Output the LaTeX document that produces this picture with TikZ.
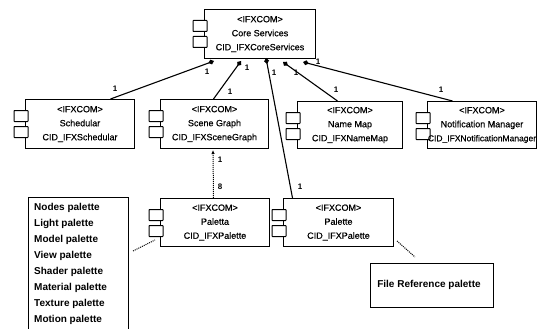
\documentclass[tikz,border=0pt]{standalone}
\usepackage{fontspec}
\setmainfont{Liberation Sans}
\newfontfamily\heavyfont[FakeBold=0.35]{Liberation Sans}
\usetikzlibrary{arrows.meta}
\tikzset{
  compbox/.style={draw,line width=1pt,fill=white,inner sep=0pt,anchor=north west},
  portbox/.style={draw,line width=1pt,fill=white,inner sep=0pt,minimum width=14pt,minimum height=11pt,rounded corners=0.5pt},
  complabel/.style={font=\heavyfont\fontsize{9}{14}\selectfont,align=center,inner sep=0pt},
  notebox/.style={draw,line width=1pt,fill=white,inner sep=0pt,anchor=north west},
  notetext/.style={font=\fontsize{10}{16}\selectfont\bfseries,align=left,inner sep=0pt},
  mult/.style={font=\fontsize{8}{9}\selectfont\bfseries,inner sep=0pt},
  comp/.style={line width=1.1pt,-{Diamond[length=6pt,width=5pt]}},
  dep/.style={line width=1pt,densely dotted,-{Latex[length=4pt,width=3.5pt]}},
  noteline/.style={line width=1pt,densely dotted}
}
\newcommand{\component}[7]{%
  \node[compbox,minimum width=#4pt,minimum height=#5pt] (#1) at (#2,#3) {};
  \node[portbox] (#1p) at ([xshift=-4pt,yshift=-17pt]#1.north west) {};
  \node[portbox] (#1q) at ([xshift=-4pt,yshift=-33pt]#1.north west) {};
  \node[complabel] (#1t) at ([xshift=#7pt]#1.center) {#6};
}
\begin{document}
\begin{tikzpicture}[x=1pt,y=-1pt]
\useasboundingbox (0,0) rectangle (541,329);
\clip (0,0) rectangle (541,329);
\fill[white] (0,0) rectangle (541,329);
\component{core}{204}{9}{111}{49}{<IFXCOM>\\Core Services\\CID\_IFXCoreServices}{0}
\component{sched}{25}{99}{109}{49}{<IFXCOM>\\Schedular\\CID\_IFXSchedular}{0}
\component{scene}{160}{99}{108}{49}{<IFXCOM>\\Scene Graph\\CID\_IFXSceneGraph}{0}
\component{nmap}{297}{101}{105}{47}{<IFXCOM>\\Name Map\\CID\_IFXNameMap}{0}
\component{notif}{427}{101}{109}{47}{<IFXCOM>\\Notification Manager\\{\fontsize{8.5}{14}\selectfont CID\_IFXNotificationManager}}{0}
\component{palA}{160}{198}{109}{48}{<IFXCOM>\\Paletta\\CID\_IFXPalette}{0}
\component{palB}{283}{198}{110}{48}{<IFXCOM>\\Palette\\CID\_IFXPalette}{0}
\node[notebox,minimum width=100pt,minimum height=140pt] (noteA) at (28,197) {};
\node[notetext,anchor=north west] (noteAt) at (34,203) {Nodes palette\\Light palette\\Model palette\\View palette\\Shader palette\\Material palette\\Texture palette\\Motion palette};
\node[notebox,minimum width=123pt,minimum height=44pt] (noteB) at (370,263) {};
\node[notetext] (noteBt) at (429,285) {File Reference palette};
\coordinate (d1) at (214,61);
\coordinate (d2) at (241,61);
\coordinate (d3) at (266,58);
\coordinate (d4) at (283,62);
\coordinate (d5) at (303,62);
\coordinate (n1) at (133,251);
\coordinate (n2) at (155,240);
\coordinate (n3) at (397,241);
\coordinate (n4) at (415,257);
\coordinate (da) at (213,150);
\draw[comp] ([xshift=30.5pt]sched.north) -- (d1);
\draw[comp] ([xshift=-1pt]scene.north) -- (d2);
\draw[comp] ([xshift=-46pt]palB.north) -- (d3);
\draw[comp] ([xshift=-12.5pt]nmap.north) -- (d4);
\draw[comp] ([xshift=-29.5pt]notif.north) -- (d5);
\draw[dep] ([xshift=-1.5pt]palA.north) -- (da);
\draw[noteline] (n1) -- (n2);
\draw[noteline] (n3) -- (n4);
\node[mult] (m1) at (207,72) {1};
\node[mult] (m2) at (115,89) {1};
\node[mult] (m3) at (247,68) {1};
\node[mult] (m4) at (230,92) {1};
\node[mult] (m5) at (220,160) {1};
\node[mult] (m6) at (220,187) {8};
\node[mult] (m7) at (274,73) {1};
\node[mult] (m8) at (296,73) {1};
\node[mult] (m9) at (336,90) {1};
\node[mult] (m10) at (318,62) {1};
\node[mult] (m11) at (441,90) {1};
\node[mult] (m12) at (300,187) {1};
\end{tikzpicture}
\end{document}
